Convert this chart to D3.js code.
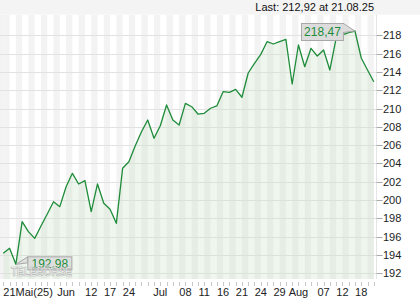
<!DOCTYPE html>
<html><head><meta charset="utf-8">
<script src="https://cdn.jsdelivr.net/npm/d3@7"></script>
<style>body{margin:0;background:#fff}svg{display:block;font-family:"Liberation Sans",Arial,sans-serif}</style>
</head><body><svg id="c" width="420" height="300"></svg>
<script>
const values = [194.19,194.73,192.98,197.64,196.55,195.82,197.17,198.48,199.82,199.28,
201.46,202.92,201.76,202.12,198.73,201.76,199.65,198.99,197.46,203.47,
204.19,205.91,207.47,208.75,206.75,208.12,210.39,208.75,208.20,210.57,
210.20,209.40,209.48,210.03,210.28,211.84,211.77,212.10,211.23,213.88,
214.94,215.92,217.30,217.05,217.30,217.56,212.68,216.94,214.57,216.58,
215.74,216.39,214.21,217.67,218.05,218.30,218.47,215.52,214.21,212.92];
const tickIndex  = [0,10,14,17,20,25,29,32,35,38,41,44,47,51,54,57];
const tickLabels = ["21Mai(25)","Jun","12","17","24","Jul","08","11","16","21","24","29","Aug","07","12","18"];
const yTicks = [192,194,196,198,200,202,204,206,208,210,212,214,216,218];
const lastText = "Last: 212,92 at 21.08.25";
const fmt = v => v.toFixed(2).replace(".", ",");

const svg = d3.select("#c");
const L = 0, R = 376.5, T = 14.7, B = 279;
const idx = d3.range(values.length);
const x = d3.scaleLinear().domain([0, values.length-1]).range([3.3, 373.8]);
const y = d3.scaleLinear().domain([192, 218]).range([273.3, 35.3]);

svg.append("rect").attr("x",0).attr("y",0).attr("width",420).attr("height",T).attr("fill","#f4f4f4");

// stripes
const g = svg.append("g");
g.append("rect").attr("x",L).attr("y",T).attr("width",R-L).attr("height",B-T).attr("fill","#ffffff");
idx.filter(i => i%2===0 && i < values.length-1).forEach(i=>{
  g.append("rect").attr("x",x(i)).attr("y",T).attr("width",x(i+1)-x(i)).attr("height",B-T).attr("fill","#f3f3f3");
});
g.append("rect").attr("x",L).attr("y",T).attr("width",x(0)-L).attr("height",B-T).attr("fill","#f3f3f3");

// grid
yTicks.forEach(t=>{
  svg.append("line").attr("x1",L).attr("x2",R+6).attr("y1",Math.round(y(t))+0.5).attr("y2",Math.round(y(t))+0.5)
    .attr("stroke","#e2e2e2").attr("stroke-width",1);
});
svg.append("line").attr("x1",R).attr("x2",R).attr("y1",T).attr("y2",B).attr("stroke","#e4e4e4");
yTicks.forEach(t=>{
  svg.append("line").attr("x1",R).attr("x2",R+6).attr("y1",Math.round(y(t))+0.5).attr("y2",Math.round(y(t))+0.5).attr("stroke","#aaa");
  svg.append("text").attr("x",R+6.5).attr("y",y(t)+4).attr("font-size",11).attr("fill","#222").text(t);
});

// area
const area = d3.area().x(i=>x(i)).y0(B).y1(i=>y(values[i]));
svg.append("path").datum(idx).attr("d",area).attr("fill","rgb(200,225,195)").attr("fill-opacity",0.3);
const line = d3.line().x(i=>x(i)).y(i=>y(values[i]));
svg.append("path").datum(idx).attr("d",line).attr("fill","none").attr("stroke","#1e8c3a").attr("stroke-width",1.3).attr("stroke-linejoin","round");

// x ticks
idx.forEach(i=>{
  svg.append("line").attr("x1",Math.round(x(i))+0.5).attr("x2",Math.round(x(i))+0.5).attr("y1",282).attr("y2",286).attr("stroke","#c8c8c8");
});
tickIndex.forEach((ti,k)=>{
  svg.append("text").attr("x",x(ti)).attr("y",296).attr("font-size",11).attr("fill","#222")
    .attr("text-anchor",k===0?"start":"middle").text(tickLabels[k]);
});

// labels
const iMax = d3.maxIndex(values), iMin = d3.minIndex(values);
{
  const px = x(iMax), py = y(values[iMax]);
  const bw = 42, bh = 17, br = px - 11.5, bt = py - 7.5;
  svg.append("path").attr("d",`M${br},${bt}L${px},${py}L${br},${bt+9}Z`).attr("fill","#dcdcdc").attr("stroke","#a8a8a8");
  svg.append("rect").attr("x",br-bw).attr("y",bt).attr("width",bw).attr("height",bh).attr("fill","#dcdcdc").attr("stroke","#a8a8a8");
  svg.append("rect").attr("x",br-1.5).attr("y",bt+0.5).attr("width",2).attr("height",8).attr("fill","#dcdcdc");
  svg.append("text").attr("x",br-bw/2).attr("y",bt+12.5).attr("text-anchor","middle").attr("font-size",12).attr("fill","#1e8c3a").text(fmt(values[iMax]));
}
{
  const px = x(iMin), py = y(values[iMin]);
  const bw = 44, bh = 13, bl = px + 12, bt = py - 7.5;
  svg.append("path").attr("d",`M${bl},${bt}L${px},${py}L${bl},${bt+6}Z`).attr("fill","#dcdcdc").attr("fill-opacity",0.85).attr("stroke","#a8a8a8");
  svg.append("rect").attr("x",bl).attr("y",bt).attr("width",bw).attr("height",bh).attr("fill","#dcdcdc").attr("fill-opacity",0.85).attr("stroke","#a8a8a8");
  svg.append("text").attr("x",bl+bw/2).attr("y",bt+11).attr("text-anchor","middle").attr("font-size",12).attr("fill","#1e8c3a").text(fmt(values[iMin]));
}

// watermark (on top)
svg.append("text").attr("x",11).attr("y",276).attr("font-size",12).attr("font-weight","bold")
  .attr("textLength",61).attr("lengthAdjust","spacingAndGlyphs")
  .attr("fill","#ffffff").attr("fill-opacity",0.55).attr("stroke","#b8b8b8").attr("stroke-width",0.7).text("TELEBÖRSE");

svg.append("text").attr("x",374).attr("y",11).attr("text-anchor","end").attr("font-size",11).attr("fill","#111").text(lastText);
</script></body></html>
